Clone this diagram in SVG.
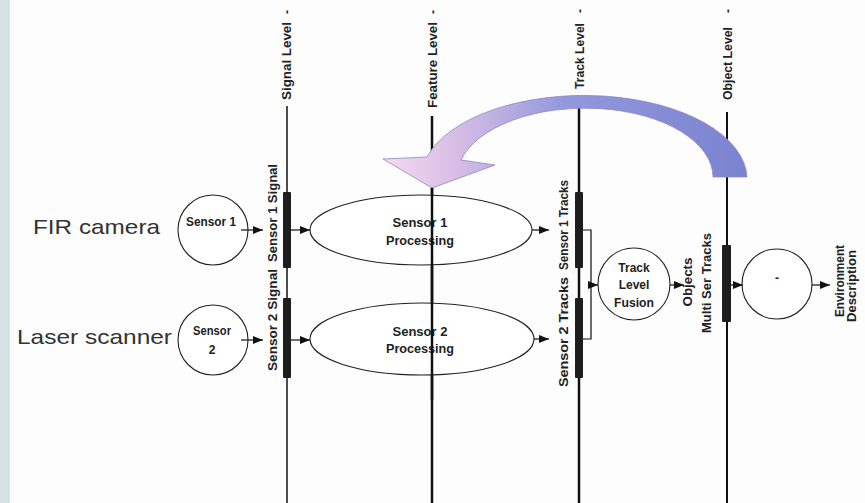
<svg xmlns="http://www.w3.org/2000/svg" width="865" height="503" viewBox="0 0 865 503">
  <defs>
    <style>
      .lbl { font-family: "Liberation Sans", Arial, sans-serif; font-weight: bold; font-size: 12px; fill: #222; }
      .big { font-family: "Liberation Sans", Arial, sans-serif; font-size: 21px; fill: #333; }
      .node { fill: #fff; stroke: #222; stroke-width: 1.1; }
      .level { stroke: #111; fill: none; }
      .bar { fill: #1e1e1e; }
      .conn { stroke: #111; stroke-width: 1.2; fill: none; }
    </style>
    <marker id="ah" viewBox="0 0 10 8" refX="10" refY="4" markerWidth="10" markerHeight="8" markerUnits="userSpaceOnUse" orient="auto">
      <path d="M0,0 L10,4 L0,8 Z" fill="#111"/>
    </marker>
    <linearGradient id="arcFill" gradientUnits="userSpaceOnUse" x1="383" y1="0" x2="747" y2="0">
      <stop offset="0" stop-color="#f5dcee"/>
      <stop offset="0.18" stop-color="#dcc0e6"/>
      <stop offset="0.5" stop-color="#9298dc"/>
      <stop offset="1" stop-color="#7b83d0"/>
    </linearGradient>
  </defs>

  <!-- page background and left margin strip -->
  <rect x="0" y="0" width="865" height="503" fill="#fdfdfd"/>
  <rect x="0" y="0" width="10" height="503" fill="#d6e1e7"/>

  <!-- abstraction levels: vertical lanes with titles -->
  <g id="levels">
    <g id="level-signal">
      <line class="level" x1="287" y1="106" x2="287" y2="503" stroke-width="1.5"/>
      <text class="lbl" transform="translate(291,22) rotate(-90)" text-anchor="end" textLength="78" lengthAdjust="spacingAndGlyphs">Signal Level</text>
      <text class="lbl" transform="translate(291,12) rotate(-90)" text-anchor="middle">-</text>
    </g>
    <g id="level-feature">
      <line class="level" x1="432" y1="116" x2="432" y2="503" stroke-width="2.5"/>
      <text class="lbl" transform="translate(437,22) rotate(-90)" text-anchor="end" textLength="86" lengthAdjust="spacingAndGlyphs">Feature Level</text>
      <text class="lbl" transform="translate(437,12) rotate(-90)" text-anchor="middle">-</text>
    </g>
    <g id="level-track">
      <line class="level" x1="579" y1="100" x2="579" y2="503" stroke-width="2.5"/>
      <text class="lbl" transform="translate(584,23) rotate(-90)" text-anchor="end" textLength="66" lengthAdjust="spacingAndGlyphs">Track Level</text>
      <text class="lbl" transform="translate(584,11) rotate(-90)" text-anchor="middle">-</text>
    </g>
    <g id="level-object">
      <line class="level" x1="727" y1="112" x2="727" y2="503" stroke-width="2"/>
      <text class="lbl" transform="translate(732,27) rotate(-90)" text-anchor="end" textLength="73" lengthAdjust="spacingAndGlyphs">Object Level</text>
      <text class="lbl" transform="translate(732,11) rotate(-90)" text-anchor="middle">-</text>
    </g>
  </g>

  <!-- feedback arrow from object level back to feature level -->
  <g id="feedback-arrow">
    <path d="M747,177 A163,84 0 0 0 427,157 L383,159 L432,188 L495,165 L461,160 A128,69 0 0 1 713,177 Z"
          fill="url(#arcFill)" stroke="#8a88bf" stroke-width="0.8"/>
  </g>

  <!-- sensor inputs -->
  <g id="fir-camera">
    <text class="big" x="33" y="234" textLength="127" lengthAdjust="spacingAndGlyphs">FIR camera</text>
  </g>
  <g id="laser-scanner">
    <text class="big" x="17" y="344" textLength="155" lengthAdjust="spacingAndGlyphs">Laser scanner</text>
  </g>

  <g id="sensor1">
    <circle class="node" cx="213" cy="230" r="35"/>
    <text class="lbl" x="211" y="226" text-anchor="middle" font-size="11" textLength="50" lengthAdjust="spacingAndGlyphs">Sensor 1</text>
  </g>
  <g id="sensor2">
    <circle class="node" cx="213" cy="340" r="35"/>
    <text class="lbl" x="212" y="335" text-anchor="middle" font-size="11" textLength="38" lengthAdjust="spacingAndGlyphs">Sensor</text>
    <text class="lbl" x="212" y="354" text-anchor="middle" font-size="11">2</text>
  </g>

  <!-- signal level data -->
  <g id="sensor1-signal">
    <rect class="bar" x="283" y="192" width="8" height="76" rx="1"/>
    <text class="lbl" transform="translate(277,213) rotate(-90)" text-anchor="middle" textLength="98" lengthAdjust="spacingAndGlyphs">Sensor 1 Signal</text>
  </g>
  <g id="sensor2-signal">
    <rect class="bar" x="283" y="298" width="8" height="80" rx="1"/>
    <text class="lbl" transform="translate(277,320) rotate(-90)" text-anchor="middle" textLength="102" lengthAdjust="spacingAndGlyphs">Sensor 2 Signal</text>
  </g>

  <!-- feature level processing -->
  <g id="sensor1-processing">
    <ellipse class="node" cx="421" cy="230" rx="111" ry="35"/>
    <text class="lbl" x="420" y="227" text-anchor="middle" font-size="12.5" fill="#333" textLength="55" lengthAdjust="spacingAndGlyphs">Sensor 1</text>
    <text class="lbl" x="420" y="245" text-anchor="middle" font-size="12.5" fill="#333" textLength="68" lengthAdjust="spacingAndGlyphs">Processing</text>
  </g>
  <g id="sensor2-processing">
    <ellipse class="node" cx="422" cy="339" rx="112" ry="36"/>
    <text class="lbl" x="420" y="336" text-anchor="middle" font-size="12.5" fill="#333" textLength="55" lengthAdjust="spacingAndGlyphs">Sensor 2</text>
    <text class="lbl" x="420" y="353" text-anchor="middle" font-size="12.5" fill="#333" textLength="68" lengthAdjust="spacingAndGlyphs">Processing</text>
  </g>

  <!-- level lanes drawn over the processing ellipses -->
  <line class="level" x1="432" y1="188" x2="432" y2="400" stroke-width="2.5"/>

  <!-- track level data -->
  <g id="sensor1-tracks">
    <rect class="bar" x="575" y="192" width="8" height="76" rx="1"/>
    <text class="lbl" transform="translate(568,225) rotate(-90)" text-anchor="middle" textLength="90" lengthAdjust="spacingAndGlyphs">Sensor 1 Tracks</text>
  </g>
  <g id="sensor2-tracks">
    <rect class="bar" x="575" y="298" width="8" height="80" rx="1"/>
    <text class="lbl" transform="translate(568,332) rotate(-90)" text-anchor="middle" textLength="110" lengthAdjust="spacingAndGlyphs">Sensor 2 Tracks</text>
  </g>

  <g id="track-level-fusion">
    <circle class="node" cx="634" cy="284" r="36"/>
    <text class="lbl" x="634" y="272" text-anchor="middle" font-size="11.5" fill="#333">Track</text>
    <text class="lbl" x="634" y="289" text-anchor="middle" font-size="11.5" fill="#333">Level</text>
    <text class="lbl" x="634" y="307" text-anchor="middle" font-size="11.5" fill="#333" textLength="40" lengthAdjust="spacingAndGlyphs">Fusion</text>
  </g>

  <!-- object level data -->
  <g id="multi-sensor-tracks">
    <rect class="bar" x="722" y="245" width="9" height="77" rx="1"/>
    <text class="lbl" transform="translate(692,282) rotate(-90)" text-anchor="middle" textLength="49" lengthAdjust="spacingAndGlyphs">Objects</text>
    <text class="lbl" transform="translate(711,283) rotate(-90)" text-anchor="middle" textLength="100" lengthAdjust="spacingAndGlyphs">Multi Ser Tracks</text>
  </g>

  <g id="situation-node">
    <circle class="node" cx="777" cy="284" r="35"/>
    <text class="lbl" x="777" y="282" text-anchor="middle" font-size="11">-</text>
  </g>

  <g id="environment-description">
    <text class="lbl" transform="translate(844,281) rotate(-90)" text-anchor="middle" font-size="11" textLength="72" lengthAdjust="spacingAndGlyphs">Environment</text>
    <text class="lbl" transform="translate(856,286) rotate(-90)" text-anchor="middle" font-size="11" textLength="72" lengthAdjust="spacingAndGlyphs">Description</text>
  </g>

  <!-- connectors -->
  <g id="connectors">
    <path class="conn" d="M241,230 H263" marker-end="url(#ah)"/>
    <path class="conn" d="M241,340 H263" marker-end="url(#ah)"/>
    <path class="conn" d="M291,230 H310" marker-end="url(#ah)"/>
    <path class="conn" d="M291,340 H310" marker-end="url(#ah)"/>
    <path class="conn" d="M532,230 H549" marker-end="url(#ah)"/>
    <path class="conn" d="M534,339 H549" marker-end="url(#ah)"/>
    <path class="conn" d="M583,230 H591 V339 H583"/>
    <path class="conn" d="M591,285 H598" marker-end="url(#ah)"/>
    <path class="conn" d="M670,285 H684" marker-end="url(#ah)"/>
    <path class="conn" d="M731,285 H743" marker-end="url(#ah)"/>
    <path class="conn" d="M812,285 H830" marker-end="url(#ah)"/>
  </g>
</svg>
